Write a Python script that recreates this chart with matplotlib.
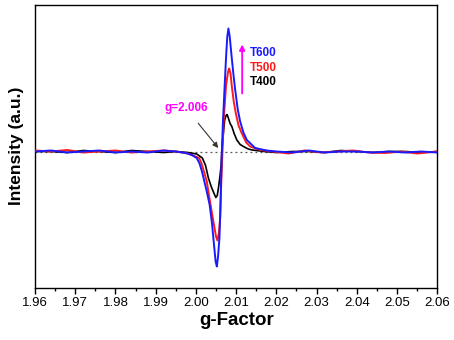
import matplotlib
matplotlib.use('Agg')
import matplotlib.pyplot as plt
from matplotlib.ticker import MultipleLocator

plt.rcParams['font.family'] = ['Liberation Sans', 'DejaVu Sans']

# EPR spectra (intensity in arbitrary units)
g_t600 = [1.960, 1.964, 1.968, 1.972, 1.976, 1.980, 1.984, 1.988, 1.992, 1.995, 1.9975,
          1.9990, 2.0002, 2.0009, 2.0015, 2.0021, 2.0027, 2.0034, 2.0040, 2.0045, 2.0049,
          2.0052, 2.0055, 2.00585, 2.0062, 2.00644, 2.0067, 2.0071, 2.0075, 2.0078, 2.00808,
          2.0084, 2.0088, 2.0093, 2.00975, 2.0104, 2.0110, 2.0118, 2.01266, 2.01473, 2.0175,
          2.020, 2.024, 2.028, 2.032, 2.036, 2.040, 2.044, 2.048, 2.052, 2.056, 2.060]
i_t600 = [0, 1, -1, 0, 1, -1, 0, -1, 1, 0, -1.5,
          -3.5, -6.5, -12, -20, -30, -40, -53, -72, -93.5, -110,
          -115, -105, -86.5, -38.5, -1.5, 28, 62, 95, 115, 123,
          115, 98, 78, 62, 42, 30, 19, 11.5, 3.5, 1,
          0, -1, 1, -1, 0, 0, -1, 0, -1, 0, -1]

g_t500 = [1.960, 1.964, 1.968, 1.972, 1.976, 1.980, 1.984, 1.988, 1.992, 1.995, 1.998,
          2.0008, 2.0014, 2.0020, 2.0027, 2.0033, 2.0040, 2.0046, 2.0050, 2.00535, 2.0057,
          2.00605, 2.0063, 2.0066, 2.0069, 2.0075, 2.0080, 2.00826, 2.0086, 2.00893, 2.0094,
          2.00993, 2.0106, 2.01142, 2.0125, 2.01348, 2.01597, 2.019, 2.023, 2.027, 2.031,
          2.035, 2.039, 2.043, 2.047, 2.051, 2.055, 2.060]
i_t500 = [1, 0, 1.5, -1, 0, 1, -1, 0, 1, 0, -2,
          -6.5, -12, -20, -30, -45, -62, -76, -85, -89, -82,
          -66, -30, 0, 31.5, 66.5, 80, 83, 78, 65, 50,
          38, 26, 18, 9, 5, 1.5, 0, -2, 1, -1,
          0, 1, -1, -1.5, 0, -2, 0]

g_t400 = [1.960, 1.964, 1.968, 1.972, 1.976, 1.980, 1.984, 1.988, 1.992, 1.995, 1.998,
          2.0002, 2.0016, 2.0024, 2.0031, 2.0038, 2.0044, 2.00495, 2.0053, 2.0056, 2.0060,
          2.00627, 2.00644, 2.00666, 2.00714, 2.0075, 2.00775, 2.0081, 2.0085, 2.00893, 2.0095,
          2.01017, 2.0110, 2.01182, 2.0130, 2.0140, 2.017, 2.020, 2.024, 2.028, 2.032,
          2.036, 2.040, 2.044, 2.048, 2.052, 2.056, 2.060]
i_t400 = [0, 0, -1, 1, 0, -1, 1, 0, -1, 0, -1,
          -2.5, -6.5, -14, -26.5, -35, -41, -46, -44, -36.5, -24,
          -13.5, 0, 11.5, 31.5, 36, 37, 33, 28, 25, 18,
          11.5, 7, 5, 2.5, 1.5, 0, -1, 0, 0, -1,
          1, 0, -1, 0, 0, -1, 0]

fig = plt.figure(figsize=(4.54, 3.40), dpi=100)
ax = fig.add_axes([0.0771, 0.1544, 0.8861, 0.8309])

ax.axhline(0, color='#555555', linestyle=(0, (1.5, 2.5)), linewidth=0.9, zorder=1)

ax.plot(g_t400, i_t400, color='black', linewidth=1.2, zorder=2)
ax.plot(g_t500, i_t500, color='#ff1a1a', linewidth=1.4, zorder=3)
ax.plot(g_t600, i_t600, color='#1a1aff', linewidth=1.4, zorder=4)

ax.set_xlim(1.96, 2.06)
ax.set_ylim(-136, 146.5)
ax.xaxis.set_major_locator(MultipleLocator(0.01))
ax.xaxis.set_minor_locator(MultipleLocator(0.005))
ax.xaxis.set_major_formatter(plt.FormatStrFormatter('%.2f'))
ax.tick_params(axis='x', which='major', direction='out', length=4, width=1, labelsize=9.5, pad=3)
ax.tick_params(axis='x', which='minor', direction='out', length=2.5, width=1)
ax.set_yticks([])

for s in ax.spines.values():
    s.set_linewidth(1.0)

ax.set_xlabel('g-Factor', fontsize=13.5, fontweight='bold', labelpad=2)
ax.set_ylabel('Intensity (a.u.)', fontsize=12.5, fontweight='bold', labelpad=8)

# annotation of the g value
ax.annotate('g=2.006', xy=(2.00555, 3.5), xytext=(1.99751, 43.5),
            color='#ff00ff', fontsize=8.5, fontweight='bold', ha='center', va='center',
            arrowprops=dict(arrowstyle='-|>', color='#333333', lw=0.8,
                            mutation_scale=8, shrinkA=6, shrinkB=0))

# temperature labels with arrow
ax.annotate('', xy=(2.01149, 107), xytext=(2.01149, 58),
            arrowprops=dict(arrowstyle='-|>', color='#ff00ff', lw=1.3, mutation_scale=8,
                            shrinkA=0, shrinkB=0))
ax.text(2.0135, 98, 'T600', color='#1a1aff', fontsize=8.5, fontweight='bold', va='center')
ax.text(2.0135, 83.5, 'T500', color='#ff1a1a', fontsize=8.5, fontweight='bold', va='center')
ax.text(2.0135, 69.5, 'T400', color='black', fontsize=8.5, fontweight='bold', va='center')

fig.savefig('out.png', dpi=100)
